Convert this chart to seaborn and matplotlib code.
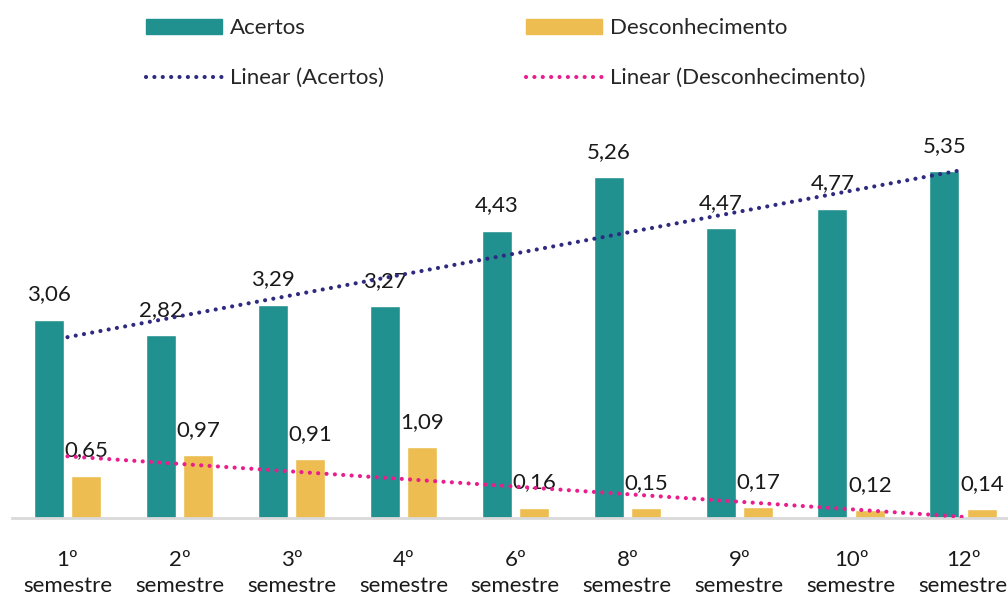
import numpy as np
import pandas as pd
import seaborn as sns
import matplotlib.pyplot as plt
from matplotlib.patches import Patch
from matplotlib.lines import Line2D

semestres = ['1º', '2º', '3º', '4º', '6º', '8º', '9º', '10º', '12º']
acertos = [3.06, 2.82, 3.29, 3.27, 4.43, 5.26, 4.47, 4.77, 5.35]
desconhecimento = [0.65, 0.97, 0.91, 1.09, 0.16, 0.15, 0.17, 0.12, 0.14]
series_names = ['Acertos', 'Desconhecimento']

teal = '#21918f'
yellow = '#edbd51'
navy = '#2e2a80'
pink = '#e91e8c'

sns.set_style('white')
plt.rcParams['font.family'] = ['Lato', 'DejaVu Sans']
fs = 16

df = pd.DataFrame({
    'semestre': semestres * 2,
    'tipo': [series_names[0]] * len(semestres) + [series_names[1]] * len(semestres),
    'valor': acertos + desconhecimento,
})

fig = plt.figure(figsize=(10.08, 5.96), dpi=100)
ax = fig.add_axes([11.5 / 1008, 78 / 596, (1008 - 11.5) / 1008, 389 / 596])

sns.barplot(data=df, x='semestre', y='valor', hue='tipo',
            palette=[teal, yellow], width=0.67, gap=0.2,
            legend=False, ax=ax, saturation=1)

for cont, vals in zip(ax.containers, [acertos, desconhecimento]):
    ax.bar_label(cont, labels=[f'{v:.2f}'.replace('.', ',') for v in vals],
                 padding=11, fontsize=fs, color='#1a1a1a')

# linear trend lines
xs = np.arange(len(semestres))
for vals, col in [(acertos, navy), (desconhecimento, pink)]:
    k, b = np.polyfit(xs, vals, 1)
    ax.plot(xs, k * xs + b, color=col, lw=3, linestyle=(0, (0.01, 2.0)),
            dash_capstyle='round', zorder=5)

ax.set_xlim(-0.5, 8.4)
ax.set_ylim(0, 6)
ax.set_yticks([])
ax.set_xlabel('')
ax.set_ylabel('')
ax.set_xticks(xs)
ax.set_xticklabels([s + '\nsemestre' for s in semestres], fontsize=fs,
                   linespacing=1.4, color='#1a1a1a')
ax.tick_params(axis='x', length=0, pad=23)
for side in ['top', 'right', 'left']:
    ax.spines[side].set_visible(False)
ax.spines['bottom'].set_color('#d9d9d9')
ax.spines['bottom'].set_linewidth(2)

leg_kw = dict(loc='upper left', frameon=False, fontsize=fs, borderpad=0,
              borderaxespad=0, handlelength=3.42, handleheight=0.68,
              handletextpad=0.36, labelspacing=1.36)
h1 = [Patch(color=teal), Line2D([], [], color=navy, lw=3, linestyle=(0, (0.01, 2.0)), dash_capstyle='round')]
h2 = [Patch(color=yellow), Line2D([], [], color=pink, lw=3, linestyle=(0, (0.01, 2.0)), dash_capstyle='round')]
fig.legend(h1, ['Acertos', 'Linear (Acertos)'], bbox_to_anchor=(146 / 1008, 1 - 18 / 596), **leg_kw)
fig.legend(h2, ['Desconhecimento', 'Linear (Desconhecimento)'], bbox_to_anchor=(526 / 1008, 1 - 18 / 596), **leg_kw)

fig.savefig('out.png', dpi=100)
